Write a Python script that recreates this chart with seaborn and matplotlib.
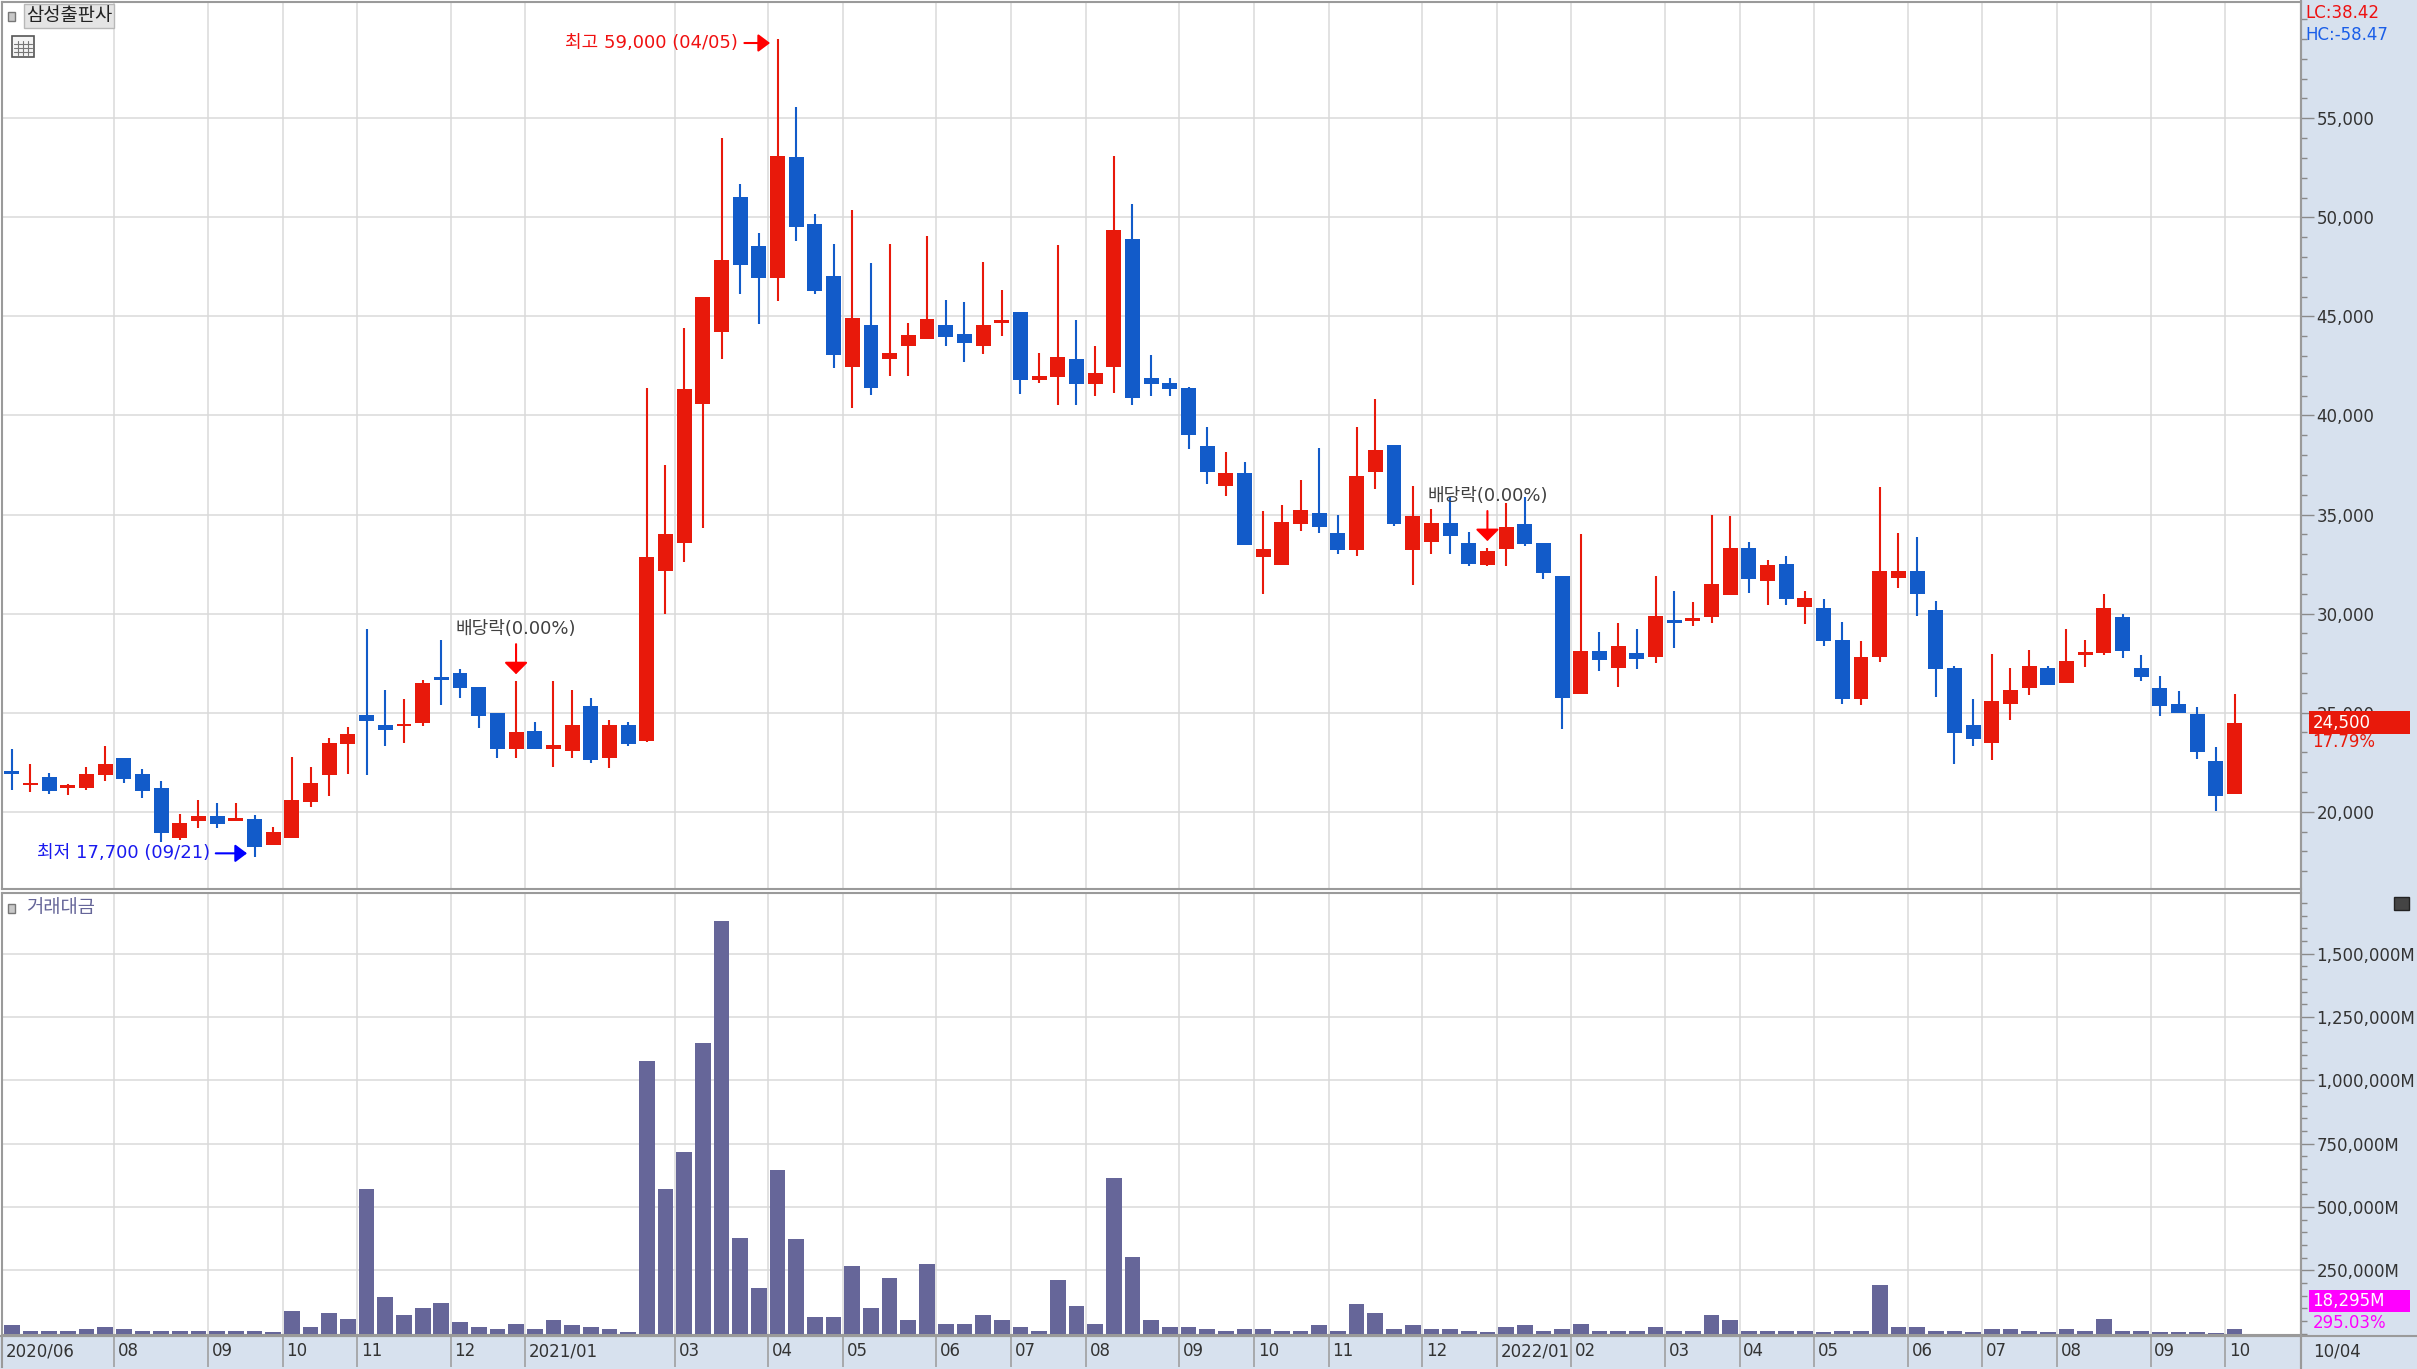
import numpy as np
import seaborn as sns
import matplotlib
matplotlib.use('Agg')
import matplotlib.pyplot as plt
from matplotlib.patches import Rectangle
from matplotlib.lines import Line2D
from matplotlib.ticker import FuncFormatter, MultipleLocator

# weekly candles, 2020-06-22 .. 2022-10-04 (원)
op = [22000, 21350, 21730, 21220, 21220, 21830, 22690, 21900, 21210, 18660,
      19550, 19780, 19550, 19610, 18320, 18660, 20500, 21830, 23410, 24900,
      24360, 24310, 24460, 26760, 27010, 26300, 24990, 23160, 24090, 23160,
      23060, 25350, 22720, 24390, 23580, 32170, 33580, 40600, 44200, 51030,
      48560, 46930, 53070, 49650, 47060, 42430, 44570, 42860, 43490, 43860,
      44590, 44090, 43490, 44690, 45200, 41780, 41940, 42870, 41570, 42470,
      48900, 41910, 41640, 41370, 38450, 36450, 37120, 32840, 32430, 34520,
      35100, 34050, 33210, 37160, 38530, 33200, 33620, 34570, 33570, 32470,
      33260, 34540, 33570, 31890, 25950, 28110, 27270, 28020, 27800, 29620,
      29650, 29820, 30960, 33310, 31670, 32480, 30330, 30280, 28680, 25710,
      27810, 31810, 32130, 30160, 27270, 24370, 23490, 25460, 26250, 27270,
      26520, 27940, 28010, 29830, 27260, 26270, 25460, 24940, 22560, 20900]
hi = [23150, 22430, 21980, 21380, 22270, 23320, 22690, 22180, 21540, 19880,
      20590, 20420, 20420, 19830, 19250, 22770, 22270, 23740, 24280, 29230,
      26130, 25700, 26670, 28690, 27200, 26300, 24990, 26590, 24540, 26590,
      26140, 25720, 24620, 24540, 41400, 37500, 44420, 46000, 54000, 51660,
      49190, 59000, 55550, 50150, 48670, 50350, 47690, 48670, 44690, 49040,
      45850, 45750, 47760, 46350, 45200, 43140, 48630, 44820, 43500, 53090,
      50690, 43060, 41910, 41450, 39410, 38180, 37650, 35190, 35470, 36720,
      38360, 34970, 39420, 40840, 38530, 36430, 35270, 35910, 34100, 33310,
      35580, 35880, 33570, 31890, 34020, 29060, 29530, 29200, 31890, 31130,
      30590, 34990, 34940, 33600, 32730, 32900, 31140, 30720, 29570, 28600,
      36380, 34080, 33890, 30630, 27360, 25710, 27980, 27270, 28180, 27360,
      29200, 28680, 30970, 29990, 27890, 26870, 26090, 25290, 23250, 25950]
lo = [21100, 21000, 20920, 20840, 21120, 21540, 21460, 20700, 18490, 18570,
      19160, 19160, 19530, 17700, 18320, 18660, 20250, 20790, 21900, 21830,
      23320, 23490, 24320, 25380, 25720, 24240, 22720, 22720, 23160, 22270,
      22720, 22470, 22190, 23310, 23500, 29960, 32600, 34310, 42860, 46130,
      44620, 45770, 48820, 46130, 42410, 40370, 41020, 41980, 41980, 43860,
      43490, 42680, 43110, 44000, 41070, 41660, 40530, 40530, 40960, 41150,
      40530, 40960, 40960, 38290, 36530, 35930, 33460, 31000, 32430, 34150,
      34060, 33010, 32930, 36270, 34430, 31440, 33010, 33010, 32390, 32390,
      32390, 33430, 31750, 24160, 25950, 27100, 26290, 27180, 27520, 28240,
      29370, 29530, 30960, 31050, 30420, 30440, 29490, 28350, 25460, 25370,
      27560, 31290, 29880, 25790, 22430, 23320, 22600, 24650, 25880, 26420,
      26520, 27310, 27930, 27760, 26600, 24850, 24990, 22670, 20060, 20900]
cl = [21950, 21450, 21040, 21330, 21880, 22430, 21660, 21040, 18940, 19430,
      19780, 19380, 19660, 18240, 18990, 20590, 21460, 23490, 23940, 24570,
      24110, 24450, 26500, 26670, 26270, 24840, 23160, 24000, 23160, 23360,
      24390, 22610, 24390, 23410, 32850, 34010, 41320, 46000, 47850, 47620,
      46930, 53080, 49500, 46300, 43030, 44940, 41400, 43160, 44060, 44870,
      43940, 43660, 44590, 44830, 41790, 41980, 42960, 41570, 42160, 49340,
      40860, 41610, 41320, 39000, 37150, 37120, 33460, 33260, 34600, 35220,
      34350, 33210, 36940, 38280, 34500, 34920, 34570, 33920, 32510, 33150,
      34360, 33530, 32050, 25750, 28110, 27640, 28360, 27720, 29870, 29580,
      29790, 31470, 33310, 31750, 32470, 30730, 30800, 28620, 25710, 27810,
      32130, 32130, 31000, 27220, 23950, 23690, 25590, 26130, 27360, 26420,
      27610, 28010, 30280, 28100, 26800, 25330, 24990, 22990, 20800, 24500]
# 거래대금, 백만원
vol = [33000, 12000, 12000, 12000, 18000, 26000, 20000, 12000, 12000, 12000,
       12000, 12000, 12000, 12000, 5000, 88000, 26000, 82000, 60000, 571000,
       143000, 75000, 103000, 122000, 47000, 26000, 18000, 39000, 18000, 54000,
       33000, 26000, 18000, 5000, 1076000, 571000, 716000, 1146000, 1630000, 379000,
       179000, 647000, 372000, 67000, 67000, 268000, 103000, 220000, 54000, 275000,
       39000, 39000, 75000, 54000, 26000, 12000, 213000, 109000, 39000, 613000,
       303000, 54000, 26000, 26000, 18000, 12000, 18000, 18000, 12000, 12000,
       33000, 12000, 116000, 82000, 18000, 33000, 18000, 18000, 12000, 5000,
       26000, 33000, 12000, 18000, 39000, 12000, 12000, 12000, 26000, 12000,
       12000, 75000, 54000, 12000, 12000, 12000, 12000, 5000, 12000, 12000,
       192000, 26000, 26000, 12000, 12000, 5000, 18000, 18000, 12000, 5000,
       18000, 12000, 60000, 12000, 12000, 5000, 5000, 5000, 4631, 18295]

month_labels = ['2020/06', '08', '09', '10', '11', '12', '2021/01', '03', '04', '05',
                '06', '07', '08', '09', '10', '11', '12', '2022/01', '02', '03',
                '04', '05', '06', '07', '08', '09', '10']
month_start_week = [0, 6, 11, 15, 19, 24, 28, 36, 41, 45,
                    50, 54, 58, 63, 67, 71, 76, 80, 84, 89,
                    93, 97, 102, 106, 110, 115, 119]
ex_div_weeks = [27, 79]
title = '삼성출판사'
last_date = '10/04'

op, hi, lo, cl, vol = map(np.array, (op, hi, lo, cl, vol))
idx = np.arange(len(op))

RED = '#e8190b'
BLUE = '#125bc9'
VOLC = '#666699'
GRID = '#dadada'
PANEL = '#d7e1ee'
EDGE = '#9a9a9a'
TXT = '#333333'

W, H = 2417, 1369
sns.set_style('white')
plt.rcParams['font.family'] = ['DejaVu Sans', 'Noto Sans CJK KR']

fig = plt.figure(figsize=(W / 100, H / 100), dpi=100)


def box(x0, y0, x1, y1):
    return [x0 / W, 1 - y1 / H, (x1 - x0) / W, (y1 - y0) / H]


# right scale panel + bottom date strip background
fig.patches.append(Rectangle((2301 / W, 0), 1 - 2301 / W, 1, transform=fig.transFigure,
                             facecolor=PANEL, edgecolor='none', zorder=-5))
fig.patches.append(Rectangle((0, 0), 1, 1 - 1336 / H, transform=fig.transFigure,
                             facecolor=PANEL, edgecolor='none', zorder=-5))

ax_p = fig.add_axes(box(2, 2, 2301, 889))
ax_v = fig.add_axes(box(2, 893, 2301, 1335), sharex=ax_p)
ax_d = fig.add_axes(box(2, 1336, 2301, 1367), sharex=ax_p)

# ---- volume (seaborn) ----
sns.barplot(x=idx, y=vol, native_scale=True, color=VOLC, saturation=1, width=0.84,
            errorbar=None, edgecolor='none', ax=ax_v, zorder=3)

# ---- candles ----
up = cl >= op
cols = np.where(up, RED, BLUE)
ax_p.vlines(idx, lo, hi, colors=cols, lw=1.5, zorder=2)
body = np.abs(cl - op)
mid = (cl + op) / 2
bh = np.maximum(body, 130)
ax_p.bar(idx, bh, bottom=mid - bh / 2, width=0.8, color=cols, linewidth=0, zorder=3)

xl = (-(11.7 - 2) / 18.68, 119 + (2301 - 2234.6) / 18.68)
ax_p.set_xlim(*xl)
ax_p.set_ylim(16100, 60870)
ax_v.set_ylim(-5100, 1739500)

for ax in (ax_p, ax_v, ax_d):
    ax.tick_params(axis='x', which='both', bottom=False, top=False, labelbottom=False)
    ax.set_xlabel('')
    ax.set_ylabel('')
    for s in ax.spines.values():
        s.set_color(EDGE)
        s.set_linewidth(1.5)
    ax.set_axisbelow(True)

# month grid lines
for s in month_start_week[1:]:
    for ax in (ax_p, ax_v):
        ax.axvline(s - 0.5, color=GRID, lw=1.1, zorder=0)
    ax_d.axvline(s - 0.5, color=EDGE, lw=1.1)

# price scale
ax_p.yaxis.set_ticks_position('right')
ax_p.set_yticks(np.arange(20000, 55001, 5000))
ax_p.yaxis.set_minor_locator(MultipleLocator(1000))
ax_p.yaxis.set_major_formatter(FuncFormatter(lambda v, _: f'{v:,.0f}'))
ax_p.grid(axis='y', color=GRID, lw=1.1)
ax_p.tick_params(axis='y', which='major', length=9, width=1, color='#8a8a8a',
                 direction='out', pad=2, labelsize=12, labelcolor=TXT)
ax_p.tick_params(axis='y', which='minor', length=4, width=1, color='#8a8a8a', direction='out')

# volume scale
ax_v.yaxis.set_ticks_position('right')
ax_v.set_yticks(np.arange(250000, 1500001, 250000))
ax_v.yaxis.set_minor_locator(MultipleLocator(50000))
ax_v.yaxis.set_major_formatter(FuncFormatter(lambda v, _: f'{v:,.0f}M'))
ax_v.grid(axis='y', color=GRID, lw=1.1)
ax_v.tick_params(axis='y', which='major', length=9, width=1, color='#8a8a8a',
                 direction='out', pad=2, labelsize=12, labelcolor=TXT)
ax_v.tick_params(axis='y', which='minor', length=4, width=1, color='#8a8a8a', direction='out')

# date strip
ax_d.set_facecolor(PANEL)
ax_d.set_yticks([])
ax_d.spines['bottom'].set_visible(False)
for lab, s in zip(month_labels, month_start_week):
    x0 = s - 0.5 if s > 0 else xl[0]
    ax_d.text(x0 + 0.2, 0.5, lab, transform=ax_d.get_xaxis_transform(), ha='left',
              va='center', fontsize=12, color=TXT)
fig.text(2313 / W, 1 - 1351 / H, last_date, fontsize=12, color=TXT, va='center')
fig.lines.append(Line2D([0, 1], [1 - 1336 / H] * 2, transform=fig.transFigure, color=EDGE, lw=1.5))
fig.lines.append(Line2D([2301 / W] * 2, [0, 1], transform=fig.transFigure, color=EDGE, lw=1.5))

# ---- annotations ----
hi_i, lo_i = int(np.argmax(hi)), int(np.argmin(lo))
ax_p.annotate(f'최고 {hi[hi_i]:,} (04/05)', xy=(hi_i - 0.4, hi[hi_i] - 200),
              xytext=(hi_i - 2.1, hi[hi_i] - 200), ha='right', va='center',
              color='#f01010', fontsize=13,
              arrowprops=dict(arrowstyle='-|>,head_length=0.4,head_width=0.3', color='#ff0000',
                              lw=1.5, shrinkA=2, shrinkB=0, mutation_scale=18))
ax_p.annotate(f'최저 {lo[lo_i]:,} (09/21)', xy=(lo_i - 0.4, lo[lo_i] + 200),
              xytext=(lo_i - 2.4, lo[lo_i] + 200), ha='right', va='center',
              color='#1a1aee', fontsize=13,
              arrowprops=dict(arrowstyle='-|>,head_length=0.4,head_width=0.3', color='#0000ff',
                              lw=1.5, shrinkA=2, shrinkB=0, mutation_scale=18))
for i in ex_div_weeks:
    ax_p.annotate('배당락(0.00%)', xy=(i, hi[i]), xytext=(0, 52), textcoords='offset pixels',
                  ha='center', va='center', color='#404040', fontsize=13)
    ax_p.annotate('', xy=(i, hi[i]), xytext=(0, 37), textcoords='offset pixels',
                  arrowprops=dict(arrowstyle='-|>,head_length=0.2,head_width=0.2', color='#ff0000',
                                  lw=1.5, shrinkA=0, shrinkB=5, mutation_scale=36))

# last price box
last, prev = cl[-1], cl[-2]
yt = ax_p.get_yaxis_transform()
ax_p.add_patch(Rectangle((1.0033, last - 560), 0.0441, 1120, transform=yt, facecolor='#e8190b',
                         edgecolor='none', clip_on=False, zorder=6))
ax_p.text(1.005, last, f'{last:,}', transform=yt, color='white', fontsize=12,
          va='center', ha='left', zorder=7)
ax_p.annotate(f'{(last - prev) / prev * 100:.2f}%', xy=(1.005, last), xycoords=yt,
              xytext=(0, -19), textcoords='offset pixels', color='#e8190b', fontsize=12,
              va='center', ha='left', annotation_clip=False)
fig.text(2305 / W, 1 - 13 / H, f'LC:{(last - lo.min()) / lo.min() * 100:.2f}',
         color='#ee1111', fontsize=12, va='center')
fig.text(2305 / W, 1 - 35 / H, f'HC:{(last - hi.max()) / hi.max() * 100:.2f}',
         color='#1a5ee8', fontsize=12, va='center')

# last volume box
at = ax_v.transAxes
ax_v.add_patch(Rectangle((1.0033, 0.052), 0.0441, 0.05, transform=at, facecolor='#ff00ff',
                         edgecolor='none', clip_on=False, zorder=6))
ax_v.text(1.005, 0.077, f'{vol[-1]:,}M', transform=at, color='white', fontsize=12,
          va='center', ha='left', zorder=7)
ax_v.text(1.005, 0.028, '295.03%', transform=at, color='#ff00ff', fontsize=12,
          va='center', ha='left')

# headers
fig.text(26 / W, 1 - 16 / H, title, fontsize=13.5, color='#222222', va='center', ha='left',
         bbox=dict(facecolor='#e4e4e4', edgecolor='#b8b8b8', pad=1.5))
fig.text(26 / W, 1 - 908 / H, '거래대금', fontsize=13.5, color=VOLC, va='center', ha='left')
for yy in (16, 908):
    fig.patches.append(Rectangle((8 / W, 1 - (yy + 5) / H), 7 / W, 9 / H, transform=fig.transFigure,
                                 facecolor='#c8c8c8', edgecolor='#777777', lw=1, zorder=5))
# calendar icon
fig.patches.append(Rectangle((12 / W, 1 - 57 / H), 22 / W, 21 / H, transform=fig.transFigure,
                             facecolor='#f4f4f4', edgecolor='#555555', lw=1.2, zorder=5))
for k in range(1, 4):
    fig.lines.append(Line2D([(12 + 5.5 * k) / W] * 2, [1 - 55 / H, 1 - 41 / H],
                            transform=fig.transFigure, color='#777777', lw=0.8, zorder=6))
    fig.lines.append(Line2D([14 / W, 32 / W], [1 - (40 + 4 * k) / H] * 2,
                            transform=fig.transFigure, color='#777777', lw=0.8, zorder=6))
# small close box on volume panel
fig.patches.append(Rectangle((2394 / W, 1 - 910 / H), 15 / W, 13 / H, transform=fig.transFigure,
                             facecolor='#444444', edgecolor='#222222', lw=1, zorder=5))
fig.text(2401.5 / W, 1 - 903.5 / H, '×', color='white', fontsize=8, ha='center', va='center')

fig.savefig('out.png', dpi=100)
